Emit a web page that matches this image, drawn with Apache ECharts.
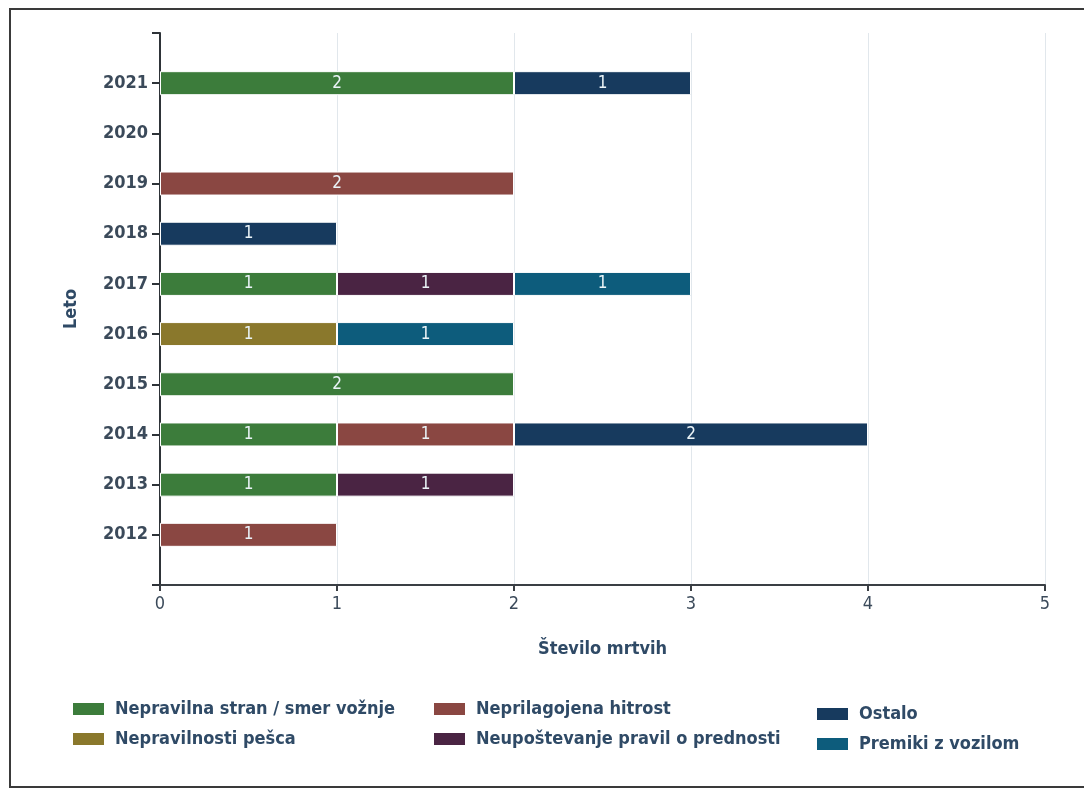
<!DOCTYPE html>
<html>
<head>
<meta charset="utf-8">
<script src="https://cdn.jsdelivr.net/npm/echarts@6/dist/echarts.min.js"></script>
<style>
html,body{margin:0;padding:0;background:#fff;}
#c{width:1084px;height:790px;}
</style>
</head>
<body>
<div id="c"></div>
<script>
const years = ['2012','2013','2014','2015','2016','2017','2018','2019','2020','2021'];
const seriesNames = ['Nepravilna stran / smer vožnje','Nepravilnosti pešca','Neprilagojena hitrost','Neupoštevanje pravil o prednosti','Ostalo','Premiki z vozilom'];
const nepravilnaStran = [null,1,1,2,null,1,null,null,null,2];
const nepravilnostiPesca = [null,null,null,null,1,null,null,null,null,null];
const neprilagojenaHitrost = [1,null,1,null,null,null,null,2,null,null];
const neupostevanjePravil = [null,1,null,null,null,1,null,null,null,null];
const ostalo = [null,null,2,null,null,null,1,null,null,1];
const premikiZVozilom = [null,null,null,null,1,1,null,null,null,null];
const xTicks = [0,1,2,3,4,5];

const colors = ['#3c7c3b','#8a782c','#8a4742','#4a2443','#173a5e','#0d5c7c'];
const allData = [nepravilnaStran,nepravilnostiPesca,neprilagojenaHitrost,neupostevanjePravil,ostalo,premikiZVozilom];

const cats = [''].concat(years).concat(['']);
const font = '"DejaVu Sans Condensed","Liberation Sans Narrow","DejaVu Sans",sans-serif';
const textColor = '#2f4a66';

const series = allData.map((d,i)=>({
  name: seriesNames[i],
  type: 'bar',
  stack: 'total',
  barWidth: 24,
  data: [null].concat(d).concat([null]),
  itemStyle: {color: colors[i], borderColor:'#ffffff', borderWidth:1},
  label: {show:true, position:'inside', color:'#eaf3f7', fontSize:17, fontFamily:font,
          formatter: p => p.value == null ? '' : String(p.value)}
}));

function legendBlock(left, top, names){
  return {
    orient:'vertical', left:left, top:top, padding:0, itemWidth:33, itemHeight:14, itemGap:10,
    data:names, icon:'rect',
    textStyle:{color:textColor, fontSize:18, lineHeight:20, fontWeight:'bold', fontFamily:font, padding:[0,0,0,5]}
  };
}

const chart = echarts.init(document.getElementById('c'));
chart.setOption({
  animation:false,
  color: colors,
  grid:{left:160, right:39, top:33, bottom:205, containLabel:false},
  legend:[
    legendBlock(71, 699, [seriesNames[0], seriesNames[1]]),
    legendBlock(432, 699, [seriesNames[2], seriesNames[3]]),
    legendBlock(815, 704, [seriesNames[4], seriesNames[5]])
  ],
  xAxis:{
    type:'value', min:xTicks[0], max:xTicks[xTicks.length-1], interval:1,
    name:'Število mrtvih', nameLocation:'middle', nameGap:55,
    nameTextStyle:{color:textColor, fontSize:18, fontWeight:'bold', fontFamily:font},
    axisLine:{show:true, lineStyle:{color:'#3a3f44', width:2}},
    axisTick:{show:true, length:6, lineStyle:{color:'#3a3f44', width:2}},
    axisLabel:{color:'#3b4a5a', fontSize:18, fontFamily:font, margin:10},
    splitLine:{show:true, lineStyle:{color:'#e1e7ec', width:1}}
  },
  yAxis:{
    type:'category', data:cats, boundaryGap:false,
    name:'Leto', nameLocation:'middle', nameGap:80, nameRotate:90,
    nameTextStyle:{color:textColor, fontSize:18, fontWeight:'bold', fontFamily:font},
    axisLine:{show:true, lineStyle:{color:'#2e3338', width:2}},
    axisTick:{show:true, length:8, lineStyle:{color:'#2e3338', width:2}},
    axisLabel:{color:'#3b4a5a', fontSize:18, fontWeight:'bold', fontFamily:font, margin:12},
    splitLine:{show:false}
  },
  graphic:[{
    type:'rect', shape:{x:10, y:9, width:1100, height:778},
    style:{fill:'none', stroke:'#3a3a3a', lineWidth:2}, silent:true, z:-1
  }],
  series: series
});
</script>
</body>
</html>
